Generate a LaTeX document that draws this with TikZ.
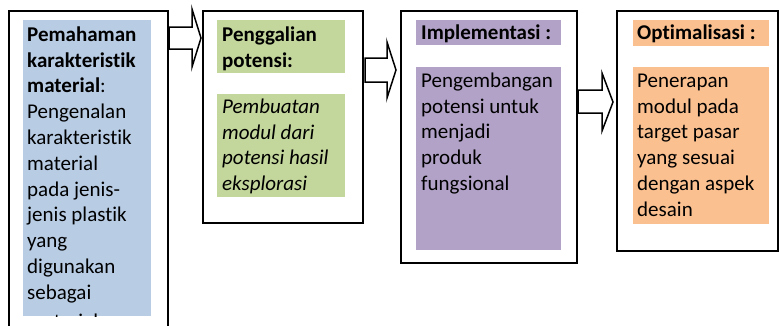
\documentclass[tikz,border=0pt]{standalone}
\usepackage{fontspec}
\setmainfont{Carlito}[Ligatures=NoCommon]
\definecolor{fblue}{HTML}{B8CCE4}
\definecolor{fgreen}{HTML}{C3D69B}
\definecolor{fpurple}{HTML}{B2A2C7}
\definecolor{forange}{HTML}{FAC090}
\tikzset{
  outerbox/.style={draw=black, line width=1.6pt, fill=white, anchor=north west, inner sep=0pt},
  fillbox/.style={fill=#1, draw=none, anchor=north west, inner sep=0pt},
  txt/.style={anchor=north west, inner sep=0pt, align=left, font=\fontsize{21}{25.8}\selectfont},
  blockarrow/.style={draw=black, line width=1.5pt, fill=white, line join=miter},
}
\newcommand{\fs}{\rule{0pt}{16pt}}
\begin{document}
\begin{tikzpicture}[x=1pt,y=-1pt]
\useasboundingbox (0,0) rectangle (779,325);
% box 1
\node[outerbox, minimum width=159pt, minimum height=330pt] (b1) at (8,10) {};
\node[fillbox=fblue, minimum width=128pt, minimum height=296pt] (f1) at (23,20) {};
\begin{scope}
\clip (23,20) rectangle (151,316);
\node[txt] (t1) at (27,25) {\fs\textbf{Pemahaman}\\\textbf{karakteristik}\\\textbf{material}:\\Pengenalan\\karakteristik\\material\\pada jenis-\\jenis plastik\\yang\\digunakan\\sebagai\\[3pt]material};
\end{scope}
% box 2
\node[outerbox, minimum width=160pt, minimum height=212pt] (b2) at (202,10) {};
\node[fillbox=fgreen, minimum width=128pt, minimum height=53pt] (h2) at (217,20) {};
\node[fillbox=fgreen, minimum width=128pt, minimum height=103pt] (f2) at (217,94) {};
\node[txt] (ht2) at (222,25) {\fs\textbf{Penggalian}\\\textbf{potensi:}};
\node[txt] (t2) at (222,97) {\fs\textit{Pembuatan}\\\textit{modul dari}\\\textit{potensi hasil}\\\textit{eksplorasi}};
% box 3
\node[outerbox, minimum width=176pt, minimum height=252pt] (b3) at (400,10) {};
\node[fillbox=fpurple, minimum width=145pt, minimum height=25pt] (h3) at (416,20) {};
\node[fillbox=fpurple, minimum width=145pt, minimum height=183pt] (f3) at (416,67) {};
\node[txt] (ht3) at (421,23) {\fs\textbf{Implementasi :}};
\node[txt] (t3) at (421,71) {\fs Pengembangan\\potensi untuk\\menjadi\\produk\\fungsional};
% box 4
\node[outerbox, minimum width=161pt, minimum height=240pt] (b4) at (616,10) {};
\node[fillbox=forange, minimum width=136pt, minimum height=26pt] (h4) at (633,20) {};
\node[fillbox=forange, minimum width=136pt, minimum height=157pt] (f4) at (633,67) {};
\node[txt] (ht4) at (637,23) {\fs\textbf{Optimalisasi :}};
\node[txt] (t4) at (637,71) {\fs Penerapan\\modul pada\\target pasar\\yang sesuai\\dengan aspek\\desain};
% block arrows
\draw[blockarrow] (169,27) -- (192,27) -- (192,9) -- (201,38) -- (192,67) -- (192,49) -- (169,49) -- cycle;
\draw[blockarrow] (365,58) -- (387,58) -- (387,42) -- (396,70) -- (387,98) -- (387,82) -- (365,82) -- cycle;
\draw[blockarrow] (578,90) -- (602,90) -- (602,73) -- (613,102) -- (602,131) -- (602,113) -- (578,113) -- cycle;
\end{tikzpicture}
\end{document}
